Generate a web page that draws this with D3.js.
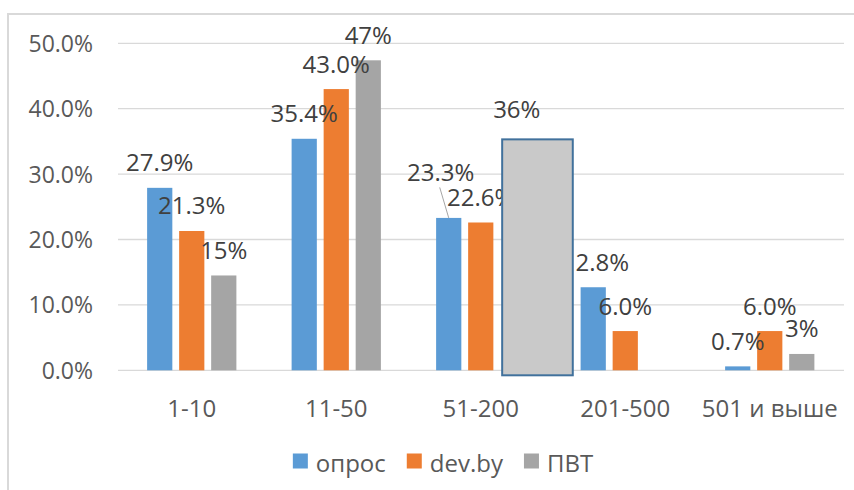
<!DOCTYPE html>
<html lang="ru">
<head>
<meta charset="UTF-8">
<title>Размер компаний</title>
<style>
  body { margin: 0; background: #fff; }
  svg { display: block; font-family: "Open Sans", sans-serif; }
  .grid line { stroke: #d9d9d9; stroke-width: 1.3; }
  .tick-label { fill: #595959; font-size: 23px; }
  .cat-label { fill: #595959; font-size: 24px; }
  .data-label { fill: #404040; font-size: 24px; }
  .legend-text { fill: #595959; font-size: 24px; }
</style>
</head>
<body>
<svg width="854" height="490"></svg>
<script src="https://d3js.org/d3.v7.min.js"></script>
<script>
// данные
const categories = ['1-10', '11-50', '51-200', '201-500', '501 и выше'];
const seriesNames = ['опрос', 'dev.by', 'ПВТ'];
const oprosValues = [27.9, 35.4, 23.3, 12.7, 0.6];
const devbyValues = [21.3, 43.0, 22.6, 6.0, 6.0];
const pvtValues = [14.5, 47.4, 36, null, 2.5];
const oprosLabels = ['27.9%', '35.4%', '23.3%', '2.8%', '0.7%'];
const devbyLabels = ['21.3%', '43.0%', '22.6%', '6.0%', '6.0%'];
const pvtLabels = ['15%', '47%', '36%', '', '3%'];
const yTicks = [0, 10, 20, 30, 40, 50];

const colors = { 'опрос': '#5b9bd5', 'dev.by': '#ed7d31', 'ПВТ': '#a5a5a5' };

// сдвиги подписей, перемещённых вручную
const labelNudge = {
  '51-200|опрос': [-8, -20],
  '201-500|опрос': [9, 0],
  '51-200|ПВТ': [4, 0]
};
// выделенный столбец (нарисован поверх как фигура)
const highlight = { cat: '51-200', series: 'ПВТ' };

const valuesBySeries = [oprosValues, devbyValues, pvtValues];
const labelsBySeries = [oprosLabels, devbyLabels, pvtLabels];

const rows = [];
categories.forEach((c, i) => {
  seriesNames.forEach((s, j) => {
    rows.push({ cat: c, series: s, value: valuesBySeries[j][i], label: labelsBySeries[j][i] });
  });
});

const svg = d3.select('svg');

// рамка диаграммы
svg.append('rect')
  .attr('x', 8).attr('y', 14)
  .attr('width', 900).attr('height', 600)
  .attr('fill', 'none')
  .attr('stroke', '#d9d9d9')
  .attr('stroke-width', 2);

const left = 119.5, right = 842;
const x0 = d3.scaleBand()
  .domain(categories)
  .range([left, right])
  .paddingInner(2.19 / 5.73)
  .paddingOuter(2.19 / 5.73 / 2);
const x1 = d3.scaleBand()
  .domain(seriesNames)
  .range([0, x0.bandwidth()])
  .paddingInner(0.54 / 2.54);
const y = d3.scaleLinear().domain([0, 50]).range([370.3, 43.3]);

// сетка
svg.append('g').attr('class', 'grid')
  .selectAll('line')
  .data(yTicks)
  .enter().append('line')
  .attr('x1', 118).attr('x2', 844)
  .attr('y1', d => y(d)).attr('y2', d => y(d));

// подписи оси Y
svg.selectAll('.tick-label')
  .data(yTicks)
  .enter().append('text')
  .attr('class', 'tick-label')
  .attr('x', 93)
  .attr('y', d => y(d) + 8.5)
  .attr('text-anchor', 'end')
  .text(d => d.toFixed(1) + '%');

// подписи категорий
svg.selectAll('.cat-label')
  .data(categories)
  .enter().append('text')
  .attr('class', 'cat-label')
  .attr('x', d => x0(d) + x0.bandwidth() / 2)
  .attr('y', 416.5)
  .attr('text-anchor', 'middle')
  .text(d => d);

const isHighlight = d => d.cat === highlight.cat && d.series === highlight.series;
const barX = d => x0(d.cat) + x1(d.series);

// столбцы
svg.selectAll('.bar')
  .data(rows.filter(d => d.value != null && !isHighlight(d)))
  .enter().append('rect')
  .attr('class', 'bar')
  .attr('x', barX)
  .attr('y', d => y(d.value))
  .attr('width', x1.bandwidth())
  .attr('height', d => y(0) - y(d.value))
  .attr('fill', d => colors[d.series]);

// подписи данных
const labelPos = d => {
  const n = labelNudge[d.cat + '|' + d.series] || [0, 0];
  return { x: barX(d) + x1.bandwidth() / 2 + n[0], y: y(d.value) - 16.5 + n[1] };
};
svg.selectAll('.data-label')
  .data(rows.filter(d => d.value != null && d.label))
  .enter().append('text')
  .attr('class', 'data-label')
  .attr('x', d => labelPos(d).x)
  .attr('y', d => labelPos(d).y)
  .attr('text-anchor', 'middle')
  .text(d => d.label);

// линия выноски для 23.3%
const leader = rows.find(d => d.cat === '51-200' && d.series === 'опрос');
svg.append('line')
  .attr('x1', labelPos(leader).x - 1).attr('y1', labelPos(leader).y + 6)
  .attr('x2', barX(leader) + x1.bandwidth() / 2).attr('y2', y(leader.value))
  .attr('stroke', '#a6a6a6')
  .attr('stroke-width', 1);

// фигура поверх столбца ПВТ
const hl = rows.find(isHighlight);
svg.append('rect')
  .attr('x', barX(hl) + 2)
  .attr('y', y(hl.value) + 4.5)
  .attr('width', x1.bandwidth() * 2.8)
  .attr('height', y(0) + 5 - (y(hl.value) + 4.5))
  .attr('fill', '#c9c9c9')
  .attr('stroke', '#41719c')
  .attr('stroke-width', 2);

// легенда
const legend = svg.append('g');
let lx = 0;
seriesNames.forEach(s => {
  legend.append('rect')
    .attr('x', lx).attr('y', 453.5)
    .attr('width', 15).attr('height', 15)
    .attr('fill', colors[s]);
  const t = legend.append('text')
    .attr('class', 'legend-text')
    .attr('x', lx + 23).attr('y', 471.5)
    .text(s);
  lx += 23 + t.node().getComputedTextLength() + 21;
});
const legendWidth = lx - 21;
legend.attr('transform', `translate(${443 - legendWidth / 2},0)`);
</script>
</body>
</html>
